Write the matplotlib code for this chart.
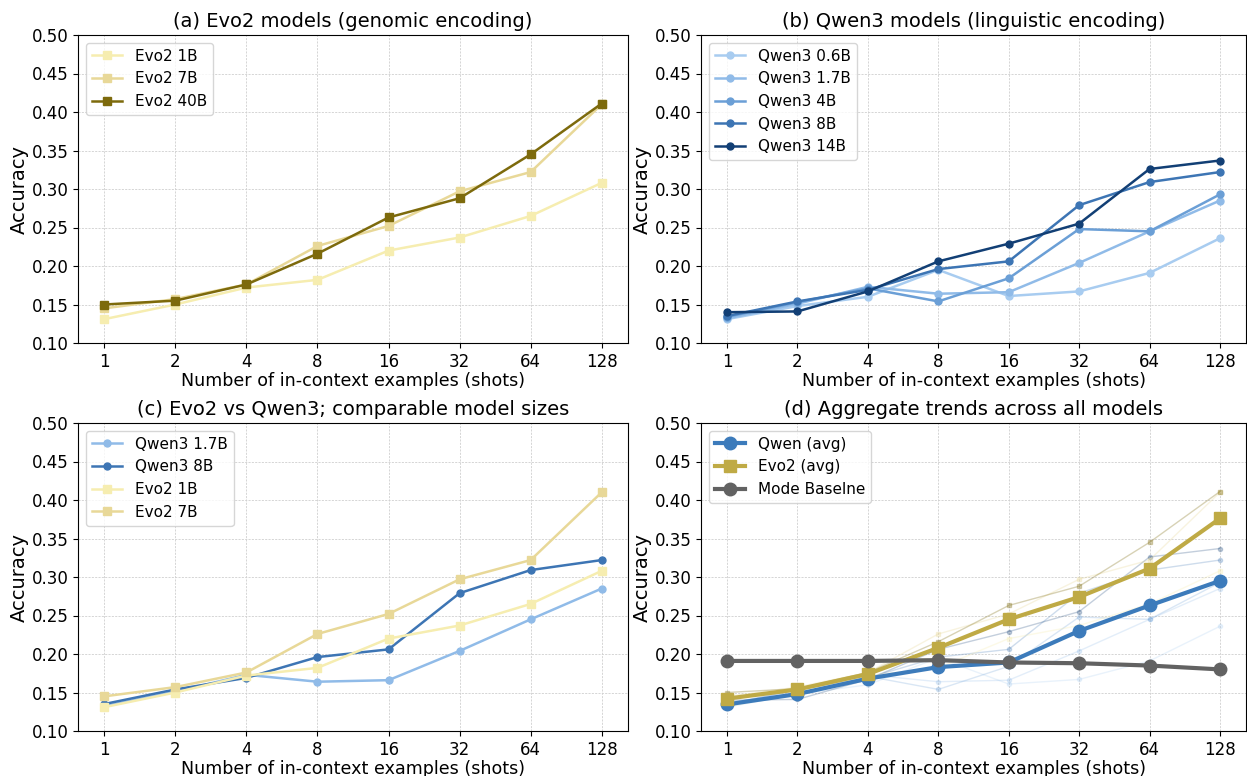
import matplotlib
matplotlib.use("Agg")
import matplotlib.pyplot as plt
import numpy as np

shots = ["1", "2", "4", "8", "16", "32", "64", "128"]

evo2_1b = [0.131, 0.150, 0.172, 0.182, 0.220, 0.237, 0.265, 0.308]
evo2_7b = [0.145, 0.157, 0.176, 0.226, 0.252, 0.297, 0.322, 0.410]
evo2_40b = [0.150, 0.155, 0.176, 0.216, 0.263, 0.288, 0.345, 0.411]

qwen3_06b = [0.131, 0.148, 0.160, 0.195, 0.161, 0.167, 0.191, 0.236]
qwen3_17b = [0.132, 0.151, 0.173, 0.164, 0.166, 0.204, 0.245, 0.285]
qwen3_4b = [0.134, 0.153, 0.171, 0.154, 0.184, 0.248, 0.245, 0.293]
qwen3_8b = [0.135, 0.154, 0.169, 0.196, 0.206, 0.279, 0.309, 0.322]
qwen3_14b = [0.140, 0.141, 0.167, 0.206, 0.229, 0.255, 0.326, 0.337]

qwen_avg = [0.1345, 0.148, 0.168, 0.183, 0.189, 0.230, 0.263, 0.295]
evo2_avg = [0.142, 0.154, 0.174, 0.208, 0.245, 0.274, 0.311, 0.376]
mode_baseline = [0.191, 0.191, 0.191, 0.192, 0.189, 0.188, 0.185, 0.180]

c_evo = {"Evo2 1B": "#f6edb0", "Evo2 7B": "#e8d898", "Evo2 40B": "#7d6a0c"}
c_qwen = {"Qwen3 0.6B": "#a8ccf0", "Qwen3 1.7B": "#90bbe8",
          "Qwen3 4B": "#6b9fd6", "Qwen3 8B": "#3d75b4", "Qwen3 14B": "#123f75"}
evo_data = {"Evo2 1B": evo2_1b, "Evo2 7B": evo2_7b, "Evo2 40B": evo2_40b}
qwen_data = {"Qwen3 0.6B": qwen3_06b, "Qwen3 1.7B": qwen3_17b, "Qwen3 4B": qwen3_4b,
             "Qwen3 8B": qwen3_8b, "Qwen3 14B": qwen3_14b}

fig = plt.figure(figsize=(12.47, 7.76), dpi=100)
W, H = 1247, 776
def add_ax(l, r, t, b):
    return fig.add_axes([l / W, 1 - b / H, (r - l) / W, (b - t) / H])

axa = add_ax(78, 628, 35, 343)
axb = add_ax(701, 1246, 35, 343)
axc = add_ax(78, 628, 423, 731)
axd = add_ax(701, 1246, 423, 731)

x = np.arange(len(shots))
yt = np.arange(0.10, 0.501, 0.05)

def style(ax, title):
    ax.set_title(title, fontsize=14)
    ax.set_xticks(x)
    ax.set_xticklabels(shots, fontsize=12)
    ax.set_xlim(-0.37, len(shots) - 1 + 0.37)
    ax.set_ylim(0.10, 0.50)
    ax.set_yticks(yt)
    ax.set_yticklabels([f"{v:.2f}" for v in yt], fontsize=12)
    ax.set_xlabel("Number of in-context examples (shots)", fontsize=12.6, labelpad=1)
    ax.set_ylabel("Accuracy", fontsize=14, labelpad=2)
    ax.grid(True, linestyle=(0, (2.5, 1.5)), linewidth=0.6, color="#cfcfcf")
    ax.set_axisbelow(True)

# (a)
for name, vals in evo_data.items():
    axa.plot(x, vals, marker="s", markersize=6, linewidth=1.8, color=c_evo[name], label=name)
style(axa, "(a) Evo2 models (genomic encoding)")
axa.legend(loc="upper left", fontsize=11)

# (b)
for name, vals in qwen_data.items():
    axb.plot(x, vals, marker="o", markersize=5, linewidth=1.8, color=c_qwen[name], label=name)
style(axb, "(b) Qwen3 models (linguistic encoding)")
axb.legend(loc="upper left", fontsize=11)

# (c)
axc.plot(x, qwen3_17b, marker="o", markersize=5, linewidth=1.8, color=c_qwen["Qwen3 1.7B"], label="Qwen3 1.7B")
axc.plot(x, qwen3_8b, marker="o", markersize=5, linewidth=1.8, color=c_qwen["Qwen3 8B"], label="Qwen3 8B")
axc.plot(x, evo2_1b, marker="s", markersize=6, linewidth=1.8, color=c_evo["Evo2 1B"], label="Evo2 1B")
axc.plot(x, evo2_7b, marker="s", markersize=6, linewidth=1.8, color=c_evo["Evo2 7B"], label="Evo2 7B")
style(axc, "(c) Evo2 vs Qwen3; comparable model sizes")
axc.legend(loc="upper left", fontsize=11)

# (d)
for name, vals in qwen_data.items():
    axd.plot(x, vals, marker="o", markersize=3, linewidth=1, color=c_qwen[name], alpha=0.25)
for name, vals in evo_data.items():
    axd.plot(x, vals, marker="s", markersize=3, linewidth=1, color=c_evo[name], alpha=0.3)
axd.plot(x, qwen_avg, marker="o", markersize=9, linewidth=3, color="#3c7bbb", label="Qwen (avg)")
axd.plot(x, evo2_avg, marker="s", markersize=9, linewidth=3, color="#bfaa45", label="Evo2 (avg)")
axd.plot(x, mode_baseline, marker="o", markersize=9, linewidth=3, color="#626262", label="Mode Baselne")
style(axd, "(d) Aggregate trends across all models")
axd.legend(loc="upper left", fontsize=11)

fig.savefig("out.png", dpi=100)
